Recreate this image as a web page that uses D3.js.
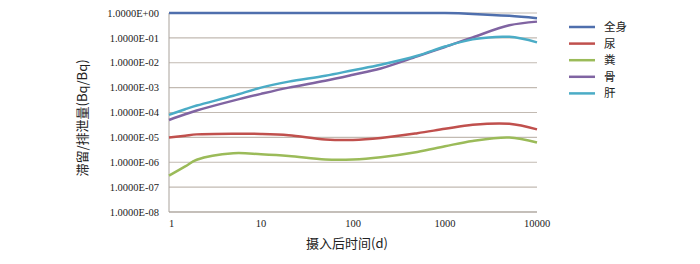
<!DOCTYPE html>
<html>
<head>
<meta charset="utf-8">
<script src="https://cdn.jsdelivr.net/npm/d3@7"></script>
<style>
  body { margin: 0; background: #fff; }
  .tick-label { font-family: "Liberation Serif", "DejaVu Serif", serif; font-size: 10.5px; fill: #222; }
  .axis-title { font-family: "Noto Sans CJK SC", sans-serif; font-size: 13px; fill: #222; }
  .legend-label { font-family: "Noto Sans CJK SC", sans-serif; font-size: 11.5px; fill: #222; }
</style>
</head>
<body>
<div id="chart"></div>
<script>
// days after intake
const times = [1, 1.5, 2, 5, 10, 20, 50, 100, 200, 500, 1000, 2000, 5000, 10000];

const wholeBody = [1, 1, 1, 1, 1, 1, 1, 1, 1, 1, 0.99, 0.92, 0.77, 0.62];
const urine = [9.8e-6, 1.17e-5, 1.32e-5, 1.41e-5, 1.38e-5, 1.23e-5, 8.3e-6, 7.9e-6, 9.5e-6, 1.48e-5, 2.2e-5, 3.2e-5, 3.5e-5, 2.1e-5];
const feces = [2.9e-7, 6.8e-7, 1.26e-6, 2.3e-6, 2.1e-6, 1.8e-6, 1.3e-6, 1.3e-6, 1.6e-6, 2.6e-6, 4.4e-6, 7.2e-6, 9.8e-6, 6.2e-6];
const bone = [5.0e-5, 8.5e-5, 1.2e-4, 3.0e-4, 5.6e-4, 1.0e-3, 1.9e-3, 3.3e-3, 5.9e-3, 1.8e-2, 4.3e-2, 0.105, 0.32, 0.45];
const liver = [8.0e-5, 1.35e-4, 1.9e-4, 4.7e-4, 1.0e-3, 1.74e-3, 3.0e-3, 5.0e-3, 8.3e-3, 1.9e-2, 4.5e-2, 8.7e-2, 0.11, 0.066];

const seriesNames = ['全身', '尿', '粪', '骨', '肝'];
const seriesColors = ['#4f6fad', '#c0504d', '#9bbb59', '#8064a2', '#4bacc6'];

const yTicks = [1, 1e-1, 1e-2, 1e-3, 1e-4, 1e-5, 1e-6, 1e-7, 1e-8];
const yTickLabels = ['1.0000E+00', '1.0000E-01', '1.0000E-02', '1.0000E-03', '1.0000E-04',
                     '1.0000E-05', '1.0000E-06', '1.0000E-07', '1.0000E-08'];
const xTicks = [1, 10, 100, 1000, 10000];

const series = [wholeBody, urine, feces, bone, liver].map((values, i) => ({
  name: seriesNames[i],
  color: seriesColors[i],
  points: times.map((t, j) => ({ t: t, v: values[j] }))
}));

/*
 * Layout
 */
const width = 700;
const height = 264;
const plot = { left: 169, right: 537, top: 13, bottom: 212 };

const x = d3.scaleLog().domain([1, 10000]).range([plot.left, plot.right]);
const y = d3.scaleLog().domain([1e-8, 1]).range([plot.bottom, plot.top]);

const svg = d3.select('#chart')
  .append('svg')
    .attr('width', width)
    .attr('height', height);

// horizontal grid
svg.append('g')
  .selectAll('line')
  .data(yTicks)
  .join('line')
    .attr('x1', plot.left)
    .attr('x2', plot.right)
    .attr('y1', d => y(d))
    .attr('y2', d => y(d))
    .attr('stroke', '#c2bab2')
    .attr('stroke-width', 1.2);

// axis lines
svg.append('line')
    .attr('x1', plot.left).attr('x2', plot.left)
    .attr('y1', plot.top).attr('y2', plot.bottom)
    .attr('stroke', '#a9a29b');
svg.append('line')
    .attr('x1', plot.left).attr('x2', plot.right)
    .attr('y1', plot.bottom).attr('y2', plot.bottom)
    .attr('stroke', '#a9a29b');

// y tick labels
svg.append('g')
  .selectAll('text')
  .data(yTicks)
  .join('text')
    .attr('class', 'tick-label')
    .attr('x', plot.left - 10)
    .attr('y', d => y(d))
    .attr('dy', '0.35em')
    .attr('text-anchor', 'end')
    .text((d, i) => yTickLabels[i]);

// x tick labels
svg.append('g')
  .selectAll('text')
  .data(xTicks)
  .join('text')
    .attr('class', 'tick-label')
    .attr('x', d => x(d))
    .attr('y', plot.bottom + 15)
    .attr('text-anchor', (d, i) => i === 0 ? 'start' : 'middle')
    .text(d => d);

/*
 * Lines
 */
const line = d3.line()
    .x(d => x(d.t))
    .y(d => y(d.v))
    .curve(d3.curveCatmullRom.alpha(0.5));

svg.append('g')
  .selectAll('path')
  .data(series)
  .join('path')
    .attr('fill', 'none')
    .attr('stroke', d => d.color)
    .attr('stroke-width', 2.5)
    .attr('d', d => line(d.points));

/*
 * Legend
 */
const legend = svg.append('g')
  .selectAll('g')
  .data(series)
  .join('g')
    .attr('transform', (d, i) => `translate(569, ${27 + i * 16.6})`);

legend.append('line')
    .attr('x1', 0).attr('x2', 26)
    .attr('stroke', d => d.color)
    .attr('stroke-width', 2.5);

legend.append('text')
    .attr('class', 'legend-label')
    .attr('x', 35)
    .attr('dy', '0.35em')
    .text(d => d.name);

/*
 * Axis titles
 */
svg.append('text')
    .attr('class', 'axis-title')
    .attr('text-anchor', 'middle')
    .attr('x', 347)
    .attr('y', 248)
    .text('摄入后时间(d)');

svg.append('text')
    .attr('class', 'axis-title')
    .attr('text-anchor', 'middle')
    .attr('dy', '0.35em')
    .attr('transform', 'translate(82, 118) rotate(-90)')
    .text('滞留/排泄量(Bq/Bq)');
</script>
</body>
</html>
